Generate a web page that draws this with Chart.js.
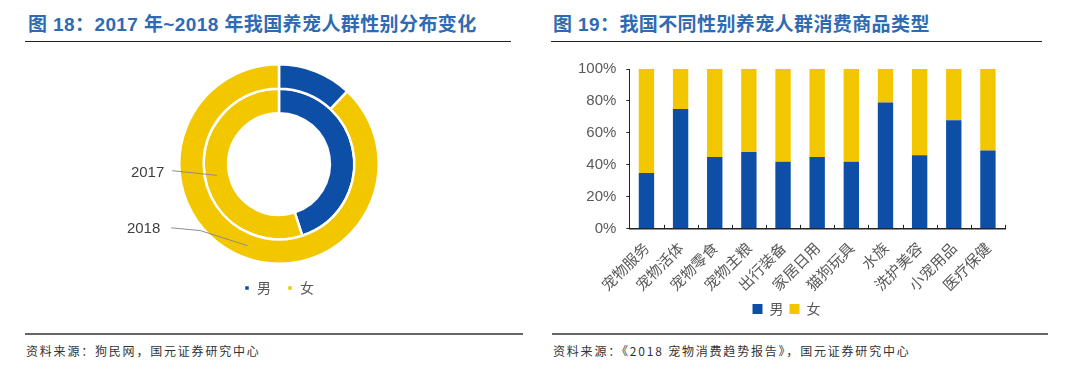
<!DOCTYPE html>
<html><head><meta charset="utf-8">
<script src="https://cdn.jsdelivr.net/npm/chart.js@4"></script>
<style>
html,body{margin:0;padding:0;background:#fff;width:1068px;height:379px;overflow:hidden;position:relative;font-family:"Noto Sans CJK SC",sans-serif;}
.title{position:absolute;top:9px;font-family:"Liberation Sans","Noto Sans CJK SC",sans-serif;font-weight:bold;font-size:19px;color:#2f6bb3;white-space:nowrap;letter-spacing:0.4px}
.hr{position:absolute;height:0;border-top:1.5px solid #222;}
.hrb{position:absolute;height:0;border-top:2px solid #666;}
.src{position:absolute;top:342px;font-size:12px;color:#333;white-space:nowrap;letter-spacing:1.8px}
canvas{position:absolute;}
</style></head><body>
<div class="title" style="left:28px">图 18：2017 年~2018 年我国养宠人群性别分布变化</div>
<div class="title" style="left:553px">图 19：我国不同性别养宠人群消费商品类型</div>
<div class="hr" style="left:25px;width:486px;top:41px"></div>
<div class="hr" style="left:551px;width:491px;top:41px"></div>
<div class="hrb" style="left:25px;width:498px;top:333px"></div>
<div class="hrb" style="left:552px;width:496px;top:333px"></div>
<div class="src" style="left:26px">资料来源：狗民网，国元证券研究中心</div>
<div class="src" style="left:553px">资料来源：《2018 宠物消费趋势报告》，国元证券研究中心</div>
<div style="position:absolute;left:0;top:50px;width:534px;height:255px"><canvas id="c1"></canvas></div>
<div style="position:absolute;left:540px;top:50px;width:528px;height:276px"><canvas id="c2"></canvas></div>
<script>
const genders = ["男", "女"];
const years = ["2018", "2017"];
const share2018 = [12, 88];
const share2017 = [45, 55];

const categories = ["宠物服务","宠物活体","宠物零食","宠物主粮","出行装备","家居日用","猫狗玩具","水族","洗护美容","小宠用品","医疗保健"];
const maleShare = [35, 75, 45, 48, 42, 45, 42, 79, 46, 68, 49];
const femaleShare = [65, 25, 55, 52, 58, 55, 58, 21, 54, 32, 51];
const yTicks = [0, 20, 40, 60, 80, 100];

const BLUE = "#0d4ea6", YELLOW = "#f2c700", GREY = "#595959";

const yearLabels = {
  id: "yearLabels",
  afterDraw(chart) {
    const ctx = chart.ctx;
    ctx.save();
    ctx.font = "15px 'Liberation Sans', Arial, sans-serif";
    ctx.fillStyle = "#404040";
    ctx.strokeStyle = "#8c8c8c";
    ctx.lineWidth = 1;
    ctx.textAlign = "right";
    ctx.textBaseline = "middle";
    chart.data.datasets.forEach((ds, i) => {
      const arc = chart.getDatasetMeta(i).data[1];
      const cx = arc.x, cy = arc.y;
      const R = chart.getDatasetMeta(0).data[1].outerRadius;
      const mid = (arc.innerRadius + arc.outerRadius) / 2;
      const ang = ds.label === "2017" ? (169.6 * Math.PI / 180) : (111.2 * Math.PI / 180);
      const ax = cx + mid * Math.cos(ang), ay = cy + mid * Math.sin(ang);
      ctx.beginPath();
      if (ds.label === "2017") {
        ctx.moveTo(cx - 1.07 * R, cy + 0.067 * R);
        ctx.lineTo(ax, ay);
        ctx.stroke();
        ctx.fillText(ds.label, cx - 1.15 * R, cy + 0.085 * R);
      } else {
        ctx.moveTo(cx - 1.08 * R, cy + 0.64 * R);
        ctx.lineTo(cx - 0.79 * R, cy + 0.667 * R);
        ctx.lineTo(ax, ay);
        ctx.stroke();
        ctx.fillText(ds.label, cx - 1.19 * R, cy + 0.647 * R);
      }
    });
    ctx.restore();
  }
};

new Chart(document.getElementById("c1"), {
  type: "doughnut",
  data: {
    labels: genders,
    datasets: [
      { label: years[0], data: share2018, backgroundColor: [BLUE, YELLOW], borderColor: "#fff", borderWidth: 2.5 },
      { label: years[1], data: share2017, backgroundColor: [BLUE, YELLOW], borderColor: "#fff", borderWidth: 2.5 }
    ]
  },
  options: {
    responsive: true, maintainAspectRatio: false, animation: false,
    cutout: "51%",
    layout: { padding: { left: 24, top: 13, bottom: 0 } },
    plugins: {
      legend: {
        position: "bottom",
        labels: { boxWidth: 6, boxHeight: 6, padding: 16, color: GREY, font: { size: 14, family: "'Noto Sans CJK SC'" } }
      },
      tooltip: { enabled: false }
    }
  },
  plugins: [yearLabels]
});

const innerTicks = {
  id: "innerTicks",
  afterDraw(chart) {
    const x = chart.scales.x, ctx = chart.ctx;
    const step = (x.right - x.left) / categories.length;
    ctx.save();
    ctx.strokeStyle = "#222";
    ctx.lineWidth = 1;
    for (let i = 1; i <= categories.length; i++) {
      const px = Math.round(x.left + i * step) + 0.5;
      ctx.beginPath();
      ctx.moveTo(px, x.top);
      ctx.lineTo(px, x.top - 4);
      ctx.stroke();
    }
    ctx.restore();
  }
};

new Chart(document.getElementById("c2"), {
  type: "bar",
  data: {
    labels: categories,
    datasets: [
      { label: genders[0], data: maleShare, backgroundColor: BLUE, barPercentage: 0.45, categoryPercentage: 1 },
      { label: genders[1], data: femaleShare, backgroundColor: YELLOW, barPercentage: 0.45, categoryPercentage: 1 }
    ]
  },
  options: {
    responsive: true, maintainAspectRatio: false, animation: false,
    layout: { padding: { left: 28, right: 63, top: 13, bottom: 0 } },
    scales: {
      x: {
        stacked: true,
        grid: { display: false },
        border: { color: "#222", width: 1.5 },
        ticks: { minRotation: 45, maxRotation: 45, color: GREY, padding: 2, font: { size: 15, family: "'Noto Sans CJK SC'" } }
      },
      y: {
        stacked: true, min: 0, max: 100,
        afterBuildTicks: (s) => { s.ticks = yTicks.map(v => ({ value: v })); },
        grid: { drawOnChartArea: false, tickLength: 3, color: "#222" },
        border: { color: "#222", width: 1 },
        ticks: { color: GREY, padding: 10, font: { size: 15, family: "'Liberation Sans', Arial" }, callback: (v) => v + "%" }
      }
    },
    plugins: {
      legend: {
        position: "bottom",
        labels: { boxWidth: 10, boxHeight: 10, padding: 6, color: GREY, font: { size: 14, family: "'Noto Sans CJK SC'" } }
      },
      tooltip: { enabled: false }
    }
  },
  plugins: [innerTicks]
});
</script>
</body></html>
